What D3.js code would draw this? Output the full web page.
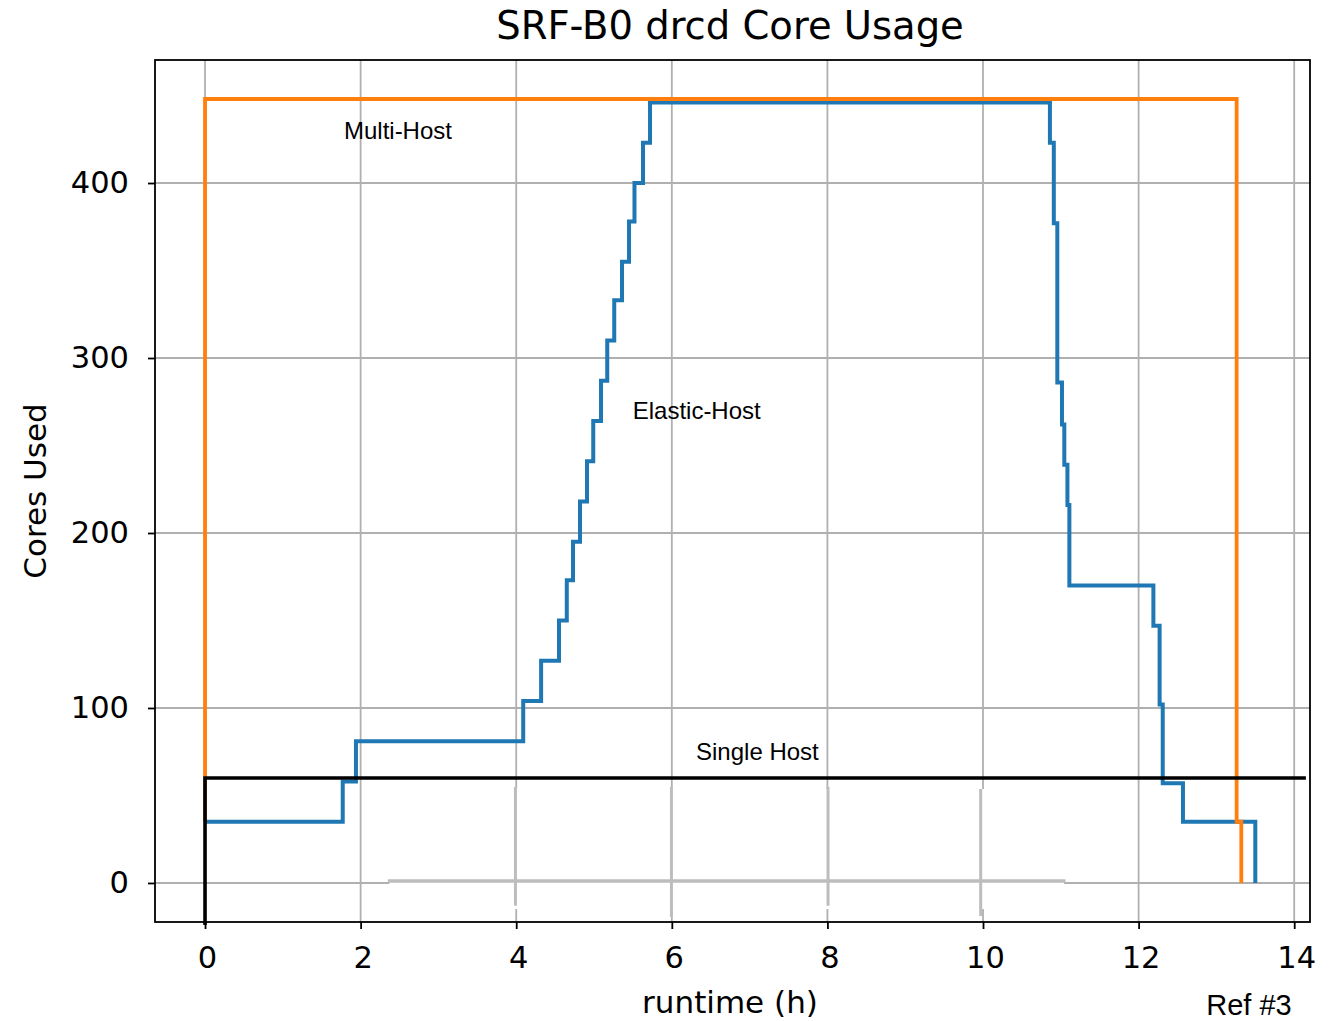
<!DOCTYPE html>
<html>
<head>
<meta charset="utf-8">
<script src="https://cdn.jsdelivr.net/npm/d3@7"></script>
<style>
  body { margin: 0; background: #fff; }
  svg text { fill: #000; }
</style>
</head>
<body>
<svg id="chart" width="1330" height="1021"></svg>
<script>
// Elastic-Host: cores in use over runtime (step-after series)
const elasticHours = [0, 1.77, 1.94, 4.09, 4.32, 4.55, 4.65, 4.73, 4.82, 4.91, 4.99, 5.09, 5.17, 5.26, 5.36, 5.45, 5.52, 5.63, 5.72,
                      10.86, 10.91, 10.955, 11.015, 11.045, 11.085, 11.11, 12.19, 12.27, 12.31, 12.57, 13.5];
const elasticCores = [35, 58, 81, 104, 127, 150, 173, 195, 218, 241, 264, 287, 310, 333, 355, 378, 400, 423, 446,
                      423, 377, 286, 262, 239, 216, 170, 147, 102, 57, 35, 0];

// Multi-Host: fixed allocation for the whole run
const multiHours = [0, 0, 13.26, 13.32];
const multiCores = [35, 448, 35, 0];

// Single Host: constant capacity line
const singleHours = [0, 0, 14.15];
const singleCores = [-24, 60, 60];

const xTicks = [0, 2, 4, 6, 8, 10, 12, 14];
const yTicks = [0, 100, 200, 300, 400];

const titleText = "SRF-B0 drcd Core Usage";
const xLabel = "runtime (h)";
const yLabel = "Cores Used";
const refText = "Ref #3";

const seriesNames = ["Multi-Host", "Elastic-Host", "Single Host"];
const nameHours = [2.48, 6.32, 7.1];
const nameCores = [430, 270, 75];

// Redrawn grid band under the single-host line
const bandHours = [2.37, 11.04];
const bandCores = [53.7, -14.9];
const bandRuleCore = 1.1;
const bandRuleHours = [2.35, 11.06];
const bandPostHours = [3.99, 5.995, 8.008, 9.97];
const bandPostTop = [54.9, 54.9, 54.9, 53.7];
const bandPostBottom = [-13, -19.4, -13, -18.9];

const svg = d3.select("#chart");
const plot = { left: 155, right: 1310, top: 60, bottom: 922 };

const x = d3.scaleLinear().domain([-0.643, 14.203]).range([plot.left, plot.right]);
const y = d3.scaleLinear().domain([-22.3, 470.3]).range([plot.bottom, plot.top]);

const dejavu = "'DejaVu Sans', sans-serif";
const liber = "'Liberation Sans', Arial, sans-serif";
const gridColor = "#b0b0b0";

// grid
const grid = svg.append("g");
grid.selectAll("line.gx").data(xTicks).join("line")
  .attr("x1", d => x(d)).attr("x2", d => x(d))
  .attr("y1", plot.top).attr("y2", plot.bottom)
  .attr("stroke", gridColor).attr("stroke-width", 1.8);
grid.selectAll("line.gy").data(yTicks).join("line")
  .attr("y1", d => y(d)).attr("y2", d => y(d))
  .attr("x1", plot.left).attr("x2", plot.right)
  .attr("stroke", gridColor).attr("stroke-width", 1.8);

// patched band
const band = svg.append("g");
band.append("rect")
  .attr("x", x(bandHours[0])).attr("y", y(bandCores[0]))
  .attr("width", x(bandHours[1]) - x(bandHours[0]))
  .attr("height", y(bandCores[1]) - y(bandCores[0]))
  .attr("fill", "#fff");
band.append("line")
  .attr("x1", x(bandRuleHours[0])).attr("x2", x(bandRuleHours[1]))
  .attr("y1", y(bandRuleCore)).attr("y2", y(bandRuleCore))
  .attr("stroke", "#bdbdbd").attr("stroke-width", 3.5);
band.selectAll("line.post").data(bandPostHours).join("line")
  .attr("x1", d => x(d)).attr("x2", d => x(d))
  .attr("y1", (d, i) => y(bandPostTop[i])).attr("y2", (d, i) => y(bandPostBottom[i]))
  .attr("stroke", "#bdbdbd").attr("stroke-width", 3);

// series
const stepLine = d3.line().curve(d3.curveStepAfter);
const pts = (hs, cs) => hs.map((h, i) => [x(h), y(cs[i])]);

svg.append("path").attr("d", stepLine(pts(elasticHours, elasticCores)))
  .attr("fill", "none").attr("stroke", "#1f77b4").attr("stroke-width", 4)
  .attr("stroke-linejoin", "miter");
svg.append("path").attr("d", stepLine(pts(multiHours, multiCores)))
  .attr("fill", "none").attr("stroke", "#ff7f0e").attr("stroke-width", 3.8);

// spines
svg.append("rect")
  .attr("x", plot.left).attr("y", plot.top)
  .attr("width", plot.right - plot.left).attr("height", plot.bottom - plot.top)
  .attr("fill", "none").attr("stroke", "#000").attr("stroke-width", 1.8);

// axes
const xAxis = d3.axisBottom(x).tickValues(xTicks).tickSize(7).tickPadding(17).tickFormat(d3.format("d"));
const yAxis = d3.axisLeft(y).tickValues(yTicks).tickSize(7).tickPadding(19).tickFormat(d3.format("d"));
const gx = svg.append("g").attr("transform", `translate(0,${plot.bottom})`).call(xAxis);
const gy = svg.append("g").attr("transform", `translate(${plot.left},0)`).call(yAxis);
[gx, gy].forEach(g => {
  g.select(".domain").remove();
  g.selectAll(".tick line").attr("stroke", "#000").attr("stroke-width", 1.8);
  g.selectAll(".tick text").attr("font-family", dejavu).attr("font-size", 30.5).attr("fill", "#000");
});
gx.selectAll(".tick text").attr("dx", 2);

// single host line drawn over everything
svg.append("path").attr("d", d3.line()(pts(singleHours, singleCores)))
  .attr("fill", "none").attr("stroke", "#000").attr("stroke-width", 3.6);

// series names
svg.selectAll("text.name").data(seriesNames).join("text")
  .attr("x", (d, i) => x(nameHours[i])).attr("y", (d, i) => y(nameCores[i]))
  .attr("text-anchor", "middle").attr("dominant-baseline", "central")
  .attr("font-family", liber).attr("font-size", 24)
  .text(d => d);

// titles
svg.append("text").attr("x", 730).attr("y", 39)
  .attr("text-anchor", "middle").attr("font-family", dejavu).attr("font-size", 38.5)
  .text(titleText);
svg.append("text").attr("x", 730).attr("y", 1013)
  .attr("text-anchor", "middle").attr("font-family", dejavu).attr("font-size", 31)
  .text(xLabel);
svg.append("text")
  .attr("transform", `translate(46,${(plot.top + plot.bottom) / 2}) rotate(-90)`)
  .attr("text-anchor", "middle").attr("font-family", dejavu).attr("font-size", 31)
  .text(yLabel);
svg.append("text").attr("x", 1249).attr("y", 1015)
  .attr("text-anchor", "middle").attr("font-family", liber).attr("font-size", 29)
  .text(refText);
</script>
</body>
</html>
